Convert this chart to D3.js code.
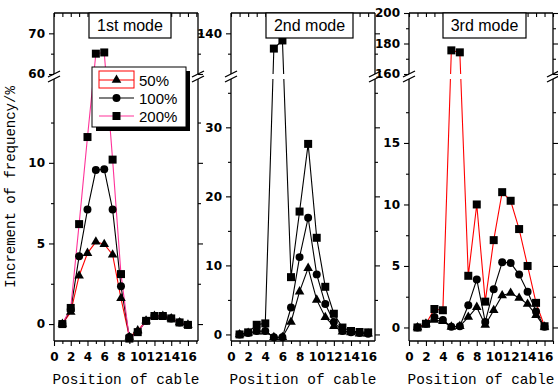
<!DOCTYPE html>
<html><head><meta charset="utf-8">
<script src="https://cdn.jsdelivr.net/npm/d3@7"></script>
<style>body{margin:0;background:#fff} svg{display:block}</style>
</head><body><svg id="c" width="558" height="389"></svg>
<script>
// ---------- data ----------
const cablePositions = [1,2,3,4,5,6,7,8,9,10,11,12,13,14,15,16];
const seriesLabels = ["50%","100%","200%"];
const modeTitles = ["1st mode","2nd mode","3rd mode"];

const mode1_50  = [0, 0.75, 3.0, 4.4, 5.1, 4.95, 4.3, 1.6, -0.8, -0.4, 0.2, 0.5, 0.5, 0.35, 0.1, -0.05];
const mode1_100 = [0, 0.9, 4.2, 7.1, 9.55, 9.6, 7.1, 2.35, -0.8, -0.5, 0.2, 0.5, 0.5, 0.35, 0.1, -0.05];
const mode1_200 = [0, 1.0, 6.2, 11.6, 65.0, 65.3, 10.2, 3.1, -0.9, -0.5, 0.2, 0.5, 0.5, 0.35, 0.1, -0.05];

const mode2_50  = [0, 0.2, 0.4, 0.4, -0.4, -0.4, 1.8, 6.2, 9.6, 5.0, 2.5, 1.2, 0.4, 0.3, 0.1, 0.1];
const mode2_100 = [0, 0.2, 0.5, 0.5, -0.4, -0.4, 3.9, 11.2, 16.9, 8.7, 4.4, 1.8, 0.5, 0.3, 0.2, 0.1];
const mode2_200 = [0, 0.3, 1.4, 1.6, 132.5, 136.5, 8.3, 17.8, 27.6, 14.0, 6.9, 3.0, 1.0, 0.5, 0.35, 0.3];

const mode3_50  = [0, 0.3, 0.6, 0.5, 0.05, 0.1, 0.85, 1.65, 0.2, 1.4, 2.6, 2.8, 2.4, 1.9, 1.0, 0.05];
const mode3_100 = [0, 0.3, 0.85, 0.6, 0.05, 0.1, 1.8, 3.9, 0.45, 3.1, 5.3, 5.25, 4.3, 2.9, 1.3, 0.05];
const mode3_200 = [0, 0.3, 1.5, 1.4, 175.5, 174.2, 4.2, 10.0, 2.1, 7.1, 11.0, 10.3, 8.0, 5.0, 2.0, 0.1];

const xMajorTicks = [0,2,4,6,8,10,12,14,16];
const xMinorTicks = [1,3,5,7,9,11,13,15,17];
const mode1Major = [0,5,10,60,70],            mode1Minor = [2.5,7.5,12.5,65];
const mode2Major = [0,10,20,30,140],          mode2Minor = [5,15,25,35,130];
const mode3Major = [0,5,10,15,160,180,200],   mode3Minor = [2.5,7.5,12.5,17.5,170,190];

const xTitle = "Position of cable";
const yTitle = "Increment of frequency/%";

// ---------- layout ----------
const TOP = 13, BOT = 341, GAP_HI = 74, GAP_LO = 79;
const panels = [
  {left:54,  right:198, xDom:[0,17.2], low:[-1.05,15.2], up:[60,75],   major:mode1Major, minor:mode1Minor,
   series:[mode1_50,mode1_100,mode1_200], colors:["#ff0000","#000000","#ff3399"], box:[89,171]},
  {left:231, right:375, xDom:[0,16.8], low:[-0.95,37],   up:[120,150], major:mode2Major, minor:mode2Minor,
   series:[mode2_50,mode2_100,mode2_200], colors:["#000","#000","#000"], box:[266,353]},
  {left:409, right:553, xDom:[0,17],   low:[-1.1,20.2],  up:[160,200], major:mode3Major, minor:mode3Minor,
   series:[mode3_50,mode3_100,mode3_200], colors:["#000","#000","#ff0000"], box:[443,526]}
];
const symbols = [d3.symbolTriangle, d3.symbolCircle, d3.symbolSquare];
const symSizes = [40, 50, 64];

const svg = d3.select("#c");
const tickFont = s => s.attr("font-family","'DejaVu Sans', sans-serif").attr("font-weight","bold").attr("font-size",12).attr("fill","#000");

panels.forEach((p, i) => {
  const x = d3.scaleLinear().domain(p.xDom).range([p.left, p.right]);
  const y = d3.scaleLinear().domain([p.low[0], p.low[1], p.up[0], p.up[1]]).range([BOT, GAP_LO, GAP_HI, TOP]);
  const g = svg.append("g");

  // clip for the broken axis
  const cid = "clip" + i;
  const cp = svg.append("clipPath").attr("id", cid);
  cp.append("rect").attr("x", p.left).attr("y", TOP).attr("width", p.right - p.left).attr("height", GAP_HI - TOP);
  cp.append("rect").attr("x", p.left).attr("y", GAP_LO).attr("width", p.right - p.left).attr("height", BOT - GAP_LO);

  // lines
  const line = d3.line().x((d, k) => x(cablePositions[k])).y(d => y(d));
  const lg = g.append("g").attr("clip-path", `url(#${cid})`);
  p.series.forEach((s, si) => {
    lg.append("path").attr("d", line(s)).attr("fill","none").attr("stroke", p.colors[si]).attr("stroke-width", 1.1);
  });
  // markers
  p.series.forEach((s, si) => {
    g.append("g").selectAll("path").data(s).join("path")
      .attr("transform", (d, k) => `translate(${x(cablePositions[k])},${y(d)})`)
      .attr("d", d3.symbol().type(symbols[si]).size(symSizes[si]))
      .attr("fill", "#000");
  });

  // bottom axis
  const gx = g.append("g").attr("transform", `translate(0,${BOT})`)
    .call(d3.axisBottom(x).tickValues(xMajorTicks).tickSize(5).tickPadding(6).tickFormat(d3.format("d")));
  gx.select(".domain").remove();
  tickFont(gx.selectAll("text"));
  const gxm = g.append("g").attr("transform", `translate(0,${BOT})`)
    .call(d3.axisBottom(x).tickValues(xMinorTicks.filter(v => v <= p.xDom[1])).tickSize(3).tickFormat(""));
  gxm.select(".domain").remove();
  // top ticks (inward)
  const gt = g.append("g").attr("transform", `translate(0,${TOP})`)
    .call(d3.axisBottom(x).tickValues(xMajorTicks.concat(xMinorTicks).filter(v => v <= p.xDom[1])).tickSize(4).tickFormat(""));
  gt.select(".domain").remove();

  // left axis
  const gy = g.append("g").attr("transform", `translate(${p.left},0)`)
    .call(d3.axisLeft(y).tickValues(p.major).tickSize(5).tickPadding(4).tickFormat(d3.format("d")));
  gy.select(".domain").remove();
  tickFont(gy.selectAll("text"));
  const gym = g.append("g").attr("transform", `translate(${p.left},0)`)
    .call(d3.axisLeft(y).tickValues(p.minor).tickSize(3).tickFormat(""));
  gym.select(".domain").remove();
  // right axis ticks
  const gr = g.append("g").attr("transform", `translate(${p.right},0)`)
    .call(d3.axisRight(y).tickValues(p.major).tickSize(5).tickFormat(""));
  gr.select(".domain").remove();
  const grm = g.append("g").attr("transform", `translate(${p.right},0)`)
    .call(d3.axisRight(y).tickValues(p.minor).tickSize(3).tickFormat(""));
  grm.select(".domain").remove();
  g.selectAll(".tick line").attr("stroke","#000").attr("stroke-width",1.1);

  // frame with break
  const fr = g.append("g").attr("stroke","#000").attr("stroke-width",1.3).attr("fill","none");
  fr.append("line").attr("x1",p.left).attr("x2",p.right).attr("y1",TOP).attr("y2",TOP);
  fr.append("line").attr("x1",p.left).attr("x2",p.right).attr("y1",BOT).attr("y2",BOT);
  [p.left, p.right].forEach(ax => {
    fr.append("line").attr("x1",ax).attr("x2",ax).attr("y1",TOP).attr("y2",GAP_HI);
    fr.append("line").attr("x1",ax).attr("x2",ax).attr("y1",GAP_LO).attr("y2",BOT);
    [GAP_HI, GAP_LO].forEach(yy => {
      fr.append("line").attr("x1",ax-6).attr("y1",yy+3).attr("x2",ax+6).attr("y2",yy-3);
    });
  });

  // title box
  g.append("rect").attr("x",p.box[0]).attr("y",TOP).attr("width",p.box[1]-p.box[0]).attr("height",25)
    .attr("fill","#fff").attr("stroke","#000").attr("stroke-width",1.2);
  g.append("text").attr("x",(p.box[0]+p.box[1])/2).attr("y",31).attr("text-anchor","middle")
    .attr("font-family","'Liberation Sans', Arial, sans-serif").attr("font-size",16).text(modeTitles[i]);

  // x title
  g.append("text").attr("x",(p.left+p.right)/2).attr("y",384).attr("text-anchor","middle")
    .attr("font-family","'Liberation Mono', monospace").attr("font-size",14.4).text(xTitle);

  // legend in first panel
  if (i === 0) {
    const L = g.append("g");
    L.append("rect").attr("x",96).attr("y",71).attr("width",94).attr("height",60).attr("fill","#000");
    L.append("rect").attr("x",92).attr("y",67).attr("width",94).attr("height",60).attr("fill","#fff").attr("stroke","#000").attr("stroke-width",1);
    const rows = [80, 98, 116];
    seriesLabels.forEach((lab, si) => {
      const yy = rows[si];
      if (si === 0) L.append("rect").attr("x",99).attr("y",71).attr("width",35).attr("height",17).attr("fill","none").attr("stroke","#ff0000").attr("stroke-width",1);
      L.append("line").attr("x1",99).attr("x2",134).attr("y1",yy).attr("y2",yy).attr("stroke",p.colors[si]).attr("stroke-width",1.1);
      L.append("path").attr("transform",`translate(116.5,${yy})`).attr("d", d3.symbol().type(symbols[si]).size(symSizes[si])).attr("fill","#000");
      L.append("text").attr("x",139).attr("y",yy+5.5).attr("font-family","'Liberation Sans', Arial, sans-serif").attr("font-size",15).text(lab);
    });
  }
});

// y title
svg.append("text").attr("transform","translate(15,187) rotate(-90)").attr("text-anchor","middle")
  .attr("font-family","'Liberation Mono', monospace").attr("font-size",14).text(yTitle);
</script>
</body></html>
